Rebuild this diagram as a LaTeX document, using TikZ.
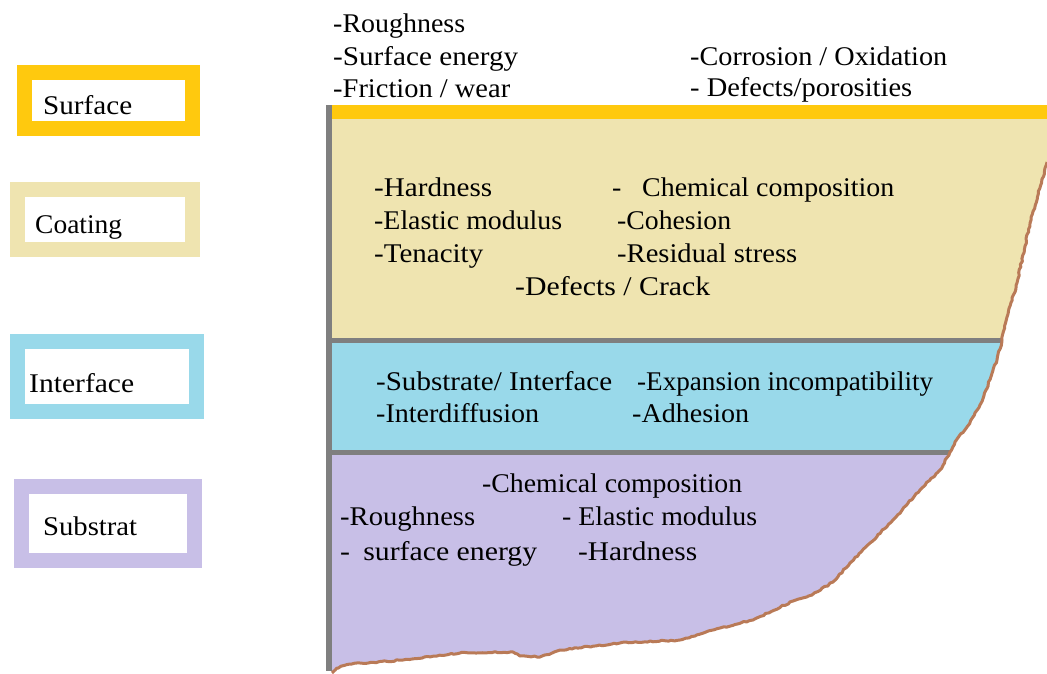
\documentclass[tikz,border=0pt]{standalone}
\usepackage{fontspec}
\usepackage{graphicx}
\setmainfont{Liberation Serif}
\usetikzlibrary{decorations.pathmorphing}

\definecolor{surfgold}{HTML}{FFC90E}
\definecolor{coattan}{HTML}{EFE4B0}
\definecolor{intblue}{HTML}{99D9EA}
\definecolor{subpurple}{HTML}{C8BFE7}
\definecolor{sepgray}{HTML}{7F7F7F}
\definecolor{edgebrown}{HTML}{B97A57}

% stretch a label horizontally to a given width (in pt), keeping its height
\newcommand\fitto[2]{\resizebox{#1pt}{\height}{#2}}

\begin{document}
\begin{tikzpicture}[x=1pt,y=-1pt,
  txt/.style={anchor=base west, inner sep=0pt, font=\fontsize{27}{33}\selectfont},
  legendbox/.style={line width=15pt, fill=white},
]
\useasboundingbox (0,0) rectangle (1047,673);

% ---------- legend ----------
\draw[legendbox, draw=surfgold]  (24.5,72.5)  rectangle (192.5,128.5);
\draw[legendbox, draw=coattan]   (17,189.5)   rectangle (192,249.5);
\draw[legendbox, draw=intblue]   (17,341.5)   rectangle (196.5,411.5);
\draw[legendbox, draw=subpurple] (21,486.5)   rectangle (194.5,560);

\node[txt] (lsurf) at (43,114) {\fitto{89}{Surface}};
\node[txt] (lcoat) at (35,233) {\fitto{87}{Coating}};
\node[txt] (lint)  at (29,392) {\fitto{105}{Interface}};
\node[txt] (lsub)  at (43,535) {\fitto{94}{Substrat}};

% ---------- layered cross-section ----------
\def\edgepath{(1047,162) -- (1030,223) -- (1017,283) -- (1007,317) -- (1002,340)
  -- (997,360) -- (986,390) -- (980,405) -- (967,427) -- (955,442) -- (950,452)
  -- (940,470) -- (920,490) -- (893,520) -- (870,543) -- (850,563) -- (833,582)
  -- (812,595) -- (793,601) -- (753,620) -- (720,628) -- (680,640) -- (620,643)
  -- (560,650) -- (540,657) -- (520,656) -- (513,652) -- (460,653) -- (403,660)
  -- (350,664) -- (337,668) -- (332,673)}

\begin{scope}
  \clip (332,105) -- (1047,105) -- \edgepath -- cycle;
  \fill[subpurple] (332,455) rectangle (1047,673);
  \fill[sepgray]   (332,450) rectangle (1047,455);
  \fill[intblue]   (332,343) rectangle (1047,450);
  \fill[sepgray]   (332,338) rectangle (1047,343);
  \fill[coattan]   (332,119) rectangle (1047,338);
  \fill[surfgold]  (332,105) rectangle (1047,119);
\end{scope}

% rough outer edge
\pgfmathsetseed{7}
\draw[edgebrown, line width=3pt, line join=round,
  decorate, decoration={random steps, segment length=3pt, amplitude=0.7pt}]
  \edgepath;

% left boundary
\fill[sepgray] (326,105) rectangle (332,671);

% ---------- surface properties ----------
\node[txt] (s1) at (333,32) {\fitto{132}{-Roughness}};
\node[txt] (s2) at (333,65) {\fitto{185}{-Surface energy}};
\node[txt] (s3) at (333,97) {\fitto{177}{-Friction / wear}};
\node[txt] (s4) at (690,65) {\fitto{257}{-Corrosion / Oxidation}};
\node[txt] (s5) at (690,96) {\fitto{222}{- Defects/porosities}};

% ---------- coating properties ----------
\node[txt] (c1) at (374,196) {\fitto{118}{-Hardness}};
\node[txt] (c2) at (612,196) {\fitto{282}{-\hspace{20pt}Chemical composition}};
\node[txt] (c3) at (374,229) {\fitto{188}{-Elastic modulus}};
\node[txt] (c4) at (617,229) {\fitto{114}{-Cohesion}};
\node[txt] (c5) at (374,262) {\fitto{109}{-Tenacity}};
\node[txt] (c6) at (617,262) {\fitto{180}{-Residual stress}};
\node[txt] (c7) at (515,295) {\fitto{195}{-Defects / Crack}};

% ---------- interface properties ----------
\node[txt] (i1) at (376,390) {\fitto{236}{-Substrate/ Interface}};
\node[txt] (i2) at (637,390) {\fitto{296}{-Expansion incompatibility}};
\node[txt] (i3) at (376,422) {\fitto{163}{-Interdiffusion}};
\node[txt] (i4) at (632,422) {\fitto{117}{-Adhesion}};

% ---------- substrate properties ----------
\node[txt] (b1) at (482,492) {\fitto{260}{-Chemical composition}};
\node[txt] (b2) at (340,525) {\fitto{135}{-Roughness}};
\node[txt] (b3) at (562,525) {\fitto{195}{- Elastic modulus}};
\node[txt] (b4) at (340,560) {\fitto{197}{-\hspace{12pt}surface energy}};
\node[txt] (b5) at (578,560) {\fitto{119}{-Hardness}};
\end{tikzpicture}
\end{document}
